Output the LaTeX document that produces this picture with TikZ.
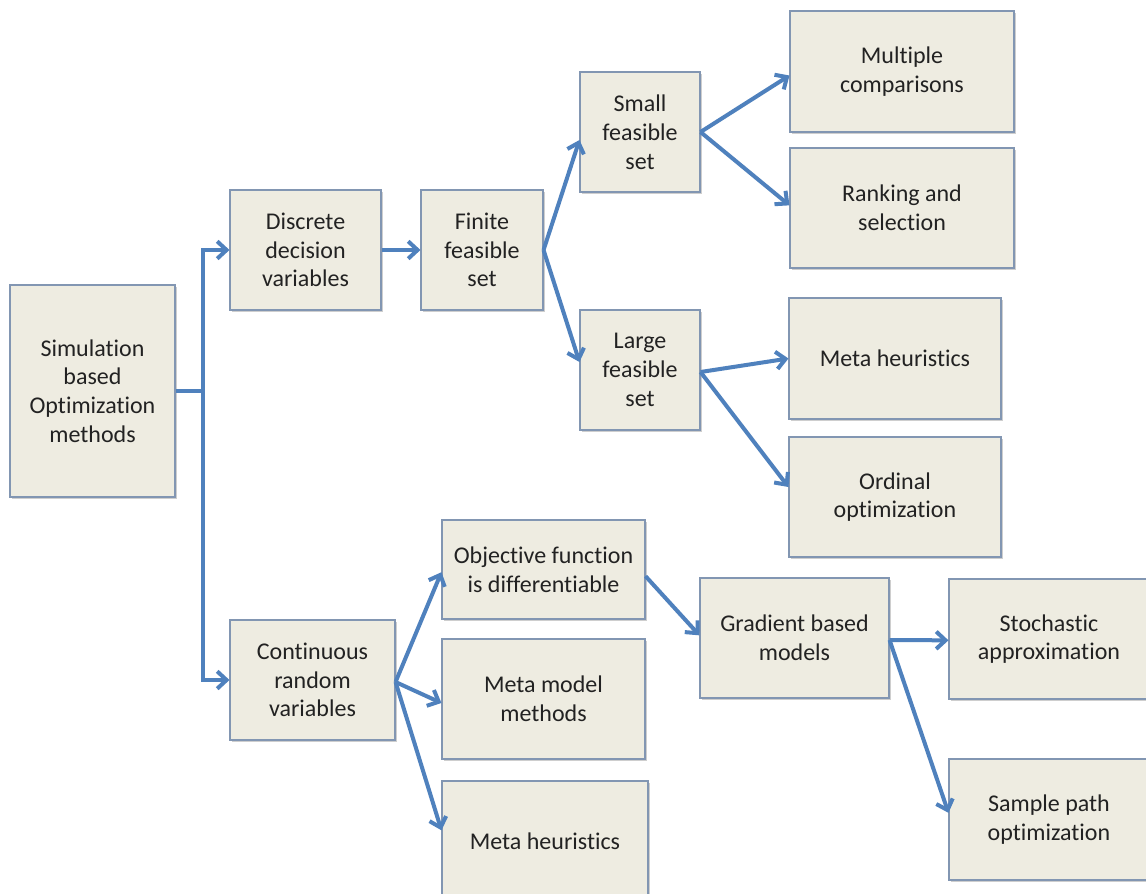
\documentclass[tikz,border=0pt]{standalone}
\usepackage{fontspec}
\setmainfont{Carlito}[Ligatures=NoCommon]
\usetikzlibrary{arrows.meta,shadows}

\definecolor{boxfill}{HTML}{EEECE1}
\definecolor{boxline}{HTML}{8296B2}
\definecolor{arrowblue}{HTML}{4F81BD}
\definecolor{txt}{HTML}{222222}

\begin{document}
\begin{tikzpicture}[x=0.75pt,y=-0.75pt,
  box/.style={draw=boxline, fill=boxfill, line width=0.8pt, align=center,
    inner sep=0pt, text=txt,
    font=\fontsize{18pt}{21.6pt}\selectfont,
    drop shadow={shadow xshift=1.2pt, shadow yshift=-1.5pt, opacity=0.35, fill=black!55}},
  sz/.style 2 args={minimum width=#1*0.75pt, minimum height=#2*0.75pt},
  arr/.style={draw=arrowblue, line width=3pt,
    -{Straight Barb[length=7pt,width=13pt,line width=3pt]}},
  lnk/.style={draw=arrowblue, line width=3pt}]

\clip (0,0) rectangle (1146,893);
\fill[white] (0,0) rectangle (1146,893);

% root and the two main branches
\node[box, sz={165}{212}] (sim)  at (92.5,391) {Simulation\\based\\Optimization\\methods};
\node[box, sz={151}{120}] (disc) at (305.5,250) {Discrete\\decision\\variables};
\node[box, sz={165}{120}] (cont) at (312.5,680) {Continuous\\random\\variables};

% discrete branch
\node[box, sz={122}{120}] (fin)   at (482,250) {Finite\\feasible\\set};
\node[box, sz={120}{120}] (small) at (640,132) {Small\\feasible\\set};
\node[box, sz={120}{120}] (large) at (640,370) {Large\\feasible\\set};
\node[box, sz={224}{121}] (mult)  at (902,71.5) {Multiple\\comparisons};
\node[box, sz={224}{120}] (rank)  at (902,208) {Ranking and\\selection};
\node[box, sz={212}{121}] (mh1)   at (895,358.5) {Meta heuristics};
\node[box, sz={212}{120}] (ord)   at (895,497) {Ordinal\\optimization};

% continuous branch
\node[box, sz={203}{99}]  (obj)  at (543.5,569.5) {Objective function\\is differentiable};
\node[box, sz={203}{120}] (mm)   at (543.5,699) {Meta model\\methods};
\node[box, sz={206}{120}] (mh2)  at (545,841) {Meta heuristics};
\node[box, sz={189}{120}] (grad) at (794.5,638) {Gradient based\\models};
\node[box, sz={200}{120}] (stoch) at (1049,639) {Stochastic\\approximation};
\node[box, sz={200}{121}] (samp)  at (1049,819.5) {Sample path\\optimization};

% connectors
\coordinate (jn) at (203,391);
\draw[lnk] (sim.east) -- (jn);
\draw[arr] (jn) |- (disc.west);
\draw[arr] (jn) |- (cont.west);

\draw[arr] (disc.east) -- (fin.west);
\draw[arr] (fin.east) -- ([yshift=-6pt]small.west);
\draw[arr] (fin.east) -- ([yshift=6pt]large.west);
\draw[arr] (small.east) -- ([yshift=-3pt]mult.west);
\draw[arr] (small.east) -- ([yshift=2pt]rank.west);
\draw[arr] ([yshift=-1.5pt]large.east) -- (mh1.west);
\draw[arr] ([yshift=-1.5pt]large.east) -- ([yshift=7.5pt]ord.west);

\draw[arr] ([yshift=-1.5pt]cont.east) -- ([yshift=-2pt]obj.west);
\draw[arr] ([yshift=-1.5pt]cont.east) -- ([yshift=-3pt]mm.west);
\draw[arr] ([yshift=-1.5pt]cont.east) -- ([yshift=8pt]mh2.west);
\draw[arr] ([yshift=-5pt]obj.east) -- ([yshift=2pt]grad.west);
\draw[arr] ([yshift=-1.5pt]grad.east) -- ([yshift=-1pt]stoch.west);
\draw[arr] ([yshift=-1.5pt]grad.east) -- ([yshift=5pt]samp.west);

\end{tikzpicture}
\end{document}
